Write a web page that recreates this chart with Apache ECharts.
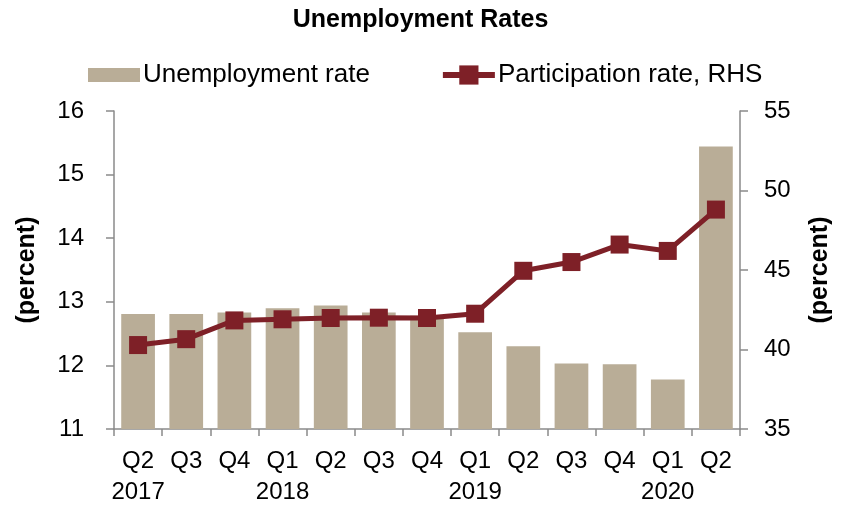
<!DOCTYPE html>
<html>
<head>
<meta charset="utf-8">
<script src="https://cdn.jsdelivr.net/npm/echarts@6/dist/echarts.min.js"></script>
<style>html,body{margin:0;padding:0;background:#fff;}#c{width:841px;height:508px;}</style>
</head>
<body>
<div id="c"></div>
<script>
var quarters = ['Q2','Q3','Q4','Q1','Q2','Q3','Q4','Q1','Q2','Q3','Q4','Q1','Q2'];
var years = ['2017','','','2018','','','','2019','','','','2020',''];
var unemployment = [12.81, 12.81, 12.83, 12.90, 12.94, 12.83, 12.78, 12.52, 12.30, 12.03, 12.02, 11.78, 15.44];
var participation = [40.28, 40.65, 41.83, 41.90, 41.98, 42.00, 41.98, 42.25, 44.95, 45.50, 46.60, 46.20, 48.80];
var leftTicks = [11, 16, 1];
var rightTicks = [35, 55, 5];

var categories = quarters.map(function (q, i) { return q + '\n' + years[i]; });
var FONT = '"Liberation Sans", Arial, sans-serif';
var axisColor = '#8a8a8a';

var chart = echarts.init(document.getElementById('c'), null, { renderer: 'canvas' });
chart.setOption({
  animation: false,
  backgroundColor: '#ffffff',
  title: {
    text: 'Unemployment Rates',
    left: 'center',
    top: 3,
    textStyle: { fontFamily: FONT, fontSize: 25, fontWeight: 'bold', color: '#000' }
  },
  legend: {
    left: 83,
    top: 57,
    itemWidth: 52,
    itemHeight: 24,
    itemGap: 70,
    symbolKeepAspect: true,
    textStyle: { fontFamily: FONT, fontSize: 26, color: '#000', padding: [0, 0, 0, -2] },
    data: [
      { name: 'Unemployment rate', icon: 'path://M0,0L52,0L52,14L0,14Z' },
      { name: 'Participation rate, RHS', lineStyle: { width: 6, color: '#7e2027' } }
    ]
  },
  grid: { left: 114, right: 97, top: 111, height: 321, containLabel: false },
  xAxis: {
    type: 'category',
    data: categories,
    axisLine: { lineStyle: { color: axisColor, width: 1.5 } },
    axisTick: { show: true, length: 7, lineStyle: { color: axisColor, width: 1.5 } },
    axisLabel: {
      interval: 0,
      margin: 17,
      fontFamily: FONT,
      fontSize: 24,
      lineHeight: 31,
      color: '#000'
    }
  },
  yAxis: [
    {
      type: 'value',
      min: leftTicks[0], max: leftTicks[1], interval: leftTicks[2],
      name: '(percent)',
      nameLocation: 'middle',
      nameRotate: 90,
      nameGap: 74,
      nameTextStyle: { fontFamily: FONT, fontSize: 25, fontWeight: 'bold', color: '#000' },
      axisLine: { show: true, lineStyle: { color: axisColor, width: 1.5 } },
      axisTick: { show: true, length: 8, lineStyle: { color: axisColor, width: 1.5 } },
      axisLabel: { fontFamily: FONT, fontSize: 24, color: '#000', margin: 30 },
      splitLine: { show: false }
    },
    {
      type: 'value',
      position: 'right',
      min: rightTicks[0], max: rightTicks[1], interval: rightTicks[2],
      name: '(percent)',
      nameLocation: 'middle',
      nameRotate: 90,
      nameGap: 68,
      nameTextStyle: { fontFamily: FONT, fontSize: 25, fontWeight: 'bold', color: '#000' },
      axisLine: { show: true, lineStyle: { color: axisColor, width: 1.5 } },
      axisTick: { show: true, length: 8, lineStyle: { color: axisColor, width: 1.5 } },
      axisLabel: { fontFamily: FONT, fontSize: 24, color: '#000', margin: 24 },
      splitLine: { show: false }
    }
  ],
  series: [
    {
      name: 'Unemployment rate',
      type: 'bar',
      yAxisIndex: 0,
      data: unemployment,
      barCategoryGap: '30%',
      itemStyle: { color: '#b9ad97' }
    },
    {
      name: 'Participation rate, RHS',
      type: 'line',
      yAxisIndex: 1,
      data: participation,
      symbol: 'rect',
      symbolSize: 18,
      lineStyle: { color: '#7e2027', width: 5 },
      itemStyle: { color: '#7e2027' }
    }
  ]
});
</script>
</body>
</html>
